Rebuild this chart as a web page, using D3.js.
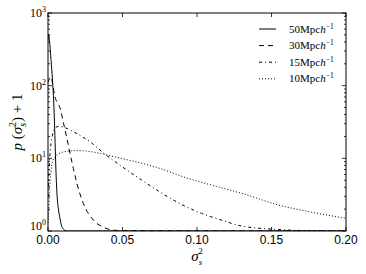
<!DOCTYPE html>
<html>
<head>
<meta charset="utf-8">
<script src="https://cdn.jsdelivr.net/npm/d3@7"></script>
<style>
  body { margin: 0; background: #fff; }
  svg { display: block; }
</style>
</head>
<body>
<div id="chart"></div>
<script>
// sigma_s^2 values and p(sigma_s^2)+1 for each smoothing scale
const x50 = [0, 0.0005, 0.001, 0.002, 0.003, 0.004, 0.0045, 0.005, 0.0055, 0.006, 0.007, 0.008, 0.009, 0.010, 0.0115, 0.013, 0.2];
const y50 = [420, 510, 420, 230, 120, 50, 25, 11, 5.5, 3.3, 2.0, 1.5, 1.2, 1.08, 1.02, 1.0, 1.0];

const x30 = [0, 0.0018, 0.0047, 0.0085, 0.0099, 0.0125, 0.0148, 0.017, 0.0193, 0.0237, 0.0304, 0.0371, 0.0436, 0.05, 0.2];
const y30 = [110, 132, 70, 46, 34, 19.6, 11.6, 7.3, 4.6, 2.4, 1.42, 1.13, 1.03, 1.01, 1.0];

const x15 = [0, 0.001, 0.002, 0.003, 0.0047, 0.007, 0.010, 0.015, 0.020, 0.028, 0.038, 0.050, 0.063, 0.0765, 0.090, 0.103, 0.117, 0.130, 0.154, 0.176, 0.2];
const y15 = [3, 9, 16, 21, 26, 27.5, 27, 24.5, 21.5, 17, 11.5, 7.6, 5.0, 3.3, 2.3, 1.75, 1.4, 1.17, 1.05, 1.01, 1.0];

const x10 = [0, 0.0005, 0.001, 0.002, 0.003, 0.0047, 0.008, 0.013, 0.020, 0.027, 0.035, 0.042, 0.050, 0.072, 0.094, 0.117, 0.130, 0.154, 0.176, 0.2];
const y10 = [1.3, 2.0, 3.5, 6.5, 9.0, 10.5, 11.8, 12.5, 12.8, 12.5, 11.7, 10.8, 9.9, 7.6, 5.3, 3.9, 3.3, 2.3, 1.83, 1.5];

const seriesNames = ['50', '30', '15', '10'];
const xTicks = [0, 0.05, 0.10, 0.15, 0.20];
const yTicks = [1, 10, 100, 1000];

const W = 366, H = 274;
const margin = { top: 13, right: 20, bottom: 43, left: 48 };
const mathFont = '"Liberation Serif", "Times New Roman", serif';

const svg = d3.select('#chart').append('svg')
    .attr('width', W)
    .attr('height', H);

const x = d3.scaleLinear().domain([0, 0.2]).range([margin.left, W - margin.right]);
const y = d3.scaleLog().domain([1, 1000]).range([H - margin.bottom, margin.top]);

const series = [
    { name: seriesNames[0], xs: x50, ys: y50, dash: null },
    { name: seriesNames[1], xs: x30, ys: y30, dash: '5,4' },
    { name: seriesNames[2], xs: x15, ys: y15, dash: '3,3,1,3' },
    { name: seriesNames[3], xs: x10, ys: y10, dash: '1,2' }
];

// clip lines to the axes box
svg.append('clipPath').attr('id', 'plotclip')
    .append('rect')
    .attr('x', margin.left).attr('y', margin.top)
    .attr('width', W - margin.left - margin.right)
    .attr('height', H - margin.top - margin.bottom);

const line = d3.line()
    .x(d => x(d[0]))
    .y(d => y(d[1]))
    .curve(d3.curveMonotoneX);

svg.append('g').attr('clip-path', 'url(#plotclip)')
    .selectAll('path')
    .data(series)
    .join('path')
    .attr('d', s => line(s.xs.map((v, i) => [v, s.ys[i]])))
    .attr('fill', 'none')
    .attr('stroke', '#000')
    .attr('stroke-width', 1)
    .attr('stroke-dasharray', s => s.dash);

// ticks pointing inwards on all four sides
const x0 = margin.left, x1 = W - margin.right;
const yb = H - margin.bottom, yt = margin.top;
const ticks = svg.append('g').attr('stroke', '#000').attr('stroke-width', 0.8);

xTicks.forEach(t => {
    ticks.append('line').attr('x1', x(t)).attr('x2', x(t)).attr('y1', yb).attr('y2', yb - 4);
    ticks.append('line').attr('x1', x(t)).attr('x2', x(t)).attr('y1', yt).attr('y2', yt + 4);
});

const minorY = [];
for (let dec = 1; dec < 1000; dec *= 10) {
    for (let k = 2; k <= 9; k++) minorY.push(dec * k);
}
yTicks.forEach(t => {
    ticks.append('line').attr('x1', x0).attr('x2', x0 + 4).attr('y1', y(t)).attr('y2', y(t));
    ticks.append('line').attr('x1', x1).attr('x2', x1 - 4).attr('y1', y(t)).attr('y2', y(t));
});
minorY.forEach(t => {
    ticks.append('line').attr('x1', x0).attr('x2', x0 + 2).attr('y1', y(t)).attr('y2', y(t));
    ticks.append('line').attr('x1', x1).attr('x2', x1 - 2).attr('y1', y(t)).attr('y2', y(t));
});

// frame
svg.append('rect')
    .attr('x', x0).attr('y', yt)
    .attr('width', x1 - x0).attr('height', yb - yt)
    .attr('fill', 'none').attr('stroke', '#000').attr('stroke-width', 1);

// x tick labels
svg.append('g').selectAll('text')
    .data(xTicks)
    .join('text')
    .attr('x', d => x(d))
    .attr('y', yb + 13)
    .attr('text-anchor', 'middle')
    .style('font-family', '"Liberation Sans", Arial, sans-serif')
    .style('font-size', '12px')
    .text(d => d.toFixed(2));

// y tick labels, 10^n
const yl = svg.append('g')
    .style('font-family', mathFont)
    .style('font-size', '12px');
yTicks.forEach(t => {
    const txt = yl.append('text')
        .attr('x', x0 - 2)
        .attr('y', y(t) + (t === 1 ? -1 : 4))
        .attr('text-anchor', 'end');
    txt.append('tspan').text('10');
    txt.append('tspan').attr('dy', -5).style('font-size', '8px').text(Math.round(Math.log10(t)));
});

// axis labels
const xl = svg.append('text')
    .attr('x', (x0 + x1) / 2)
    .attr('y', H - 13)
    .attr('text-anchor', 'middle')
    .style('font-family', mathFont)
    .style('font-size', '15px');
xl.append('tspan').style('font-style', 'italic').text('σ');
xl.append('tspan').attr('dy', 4).style('font-size', '9px').style('font-style', 'italic').text('s');
xl.append('tspan').attr('dy', -11).attr('dx', -4).style('font-size', '9px').text('2');

const ylab = svg.append('text')
    .attr('transform', `translate(22,${(yt + yb) / 2}) rotate(-90)`)
    .attr('text-anchor', 'middle')
    .style('font-family', mathFont)
    .style('font-size', '15px');
ylab.append('tspan').style('font-style', 'italic').text('p');
ylab.append('tspan').text(' (');
ylab.append('tspan').style('font-style', 'italic').text('σ');
ylab.append('tspan').attr('dy', 4).style('font-size', '10px').style('font-style', 'italic').text('s');
ylab.append('tspan').attr('dy', -10).attr('dx', -4).style('font-size', '10px').text('2');
ylab.append('tspan').attr('dy', 6).text(') + 1');

// legend
const legend = svg.append('g');
series.forEach((s, i) => {
    const ly = 29 + i * 16.6;
    legend.append('line')
        .attr('x1', 259).attr('x2', 276)
        .attr('y1', ly).attr('y2', ly)
        .attr('stroke', '#000').attr('stroke-width', 1)
        .attr('stroke-dasharray', s.dash);
    const t = legend.append('text')
        .attr('x', 289).attr('y', ly + 3.5)
        .style('font-family', mathFont)
        .style('font-size', '11px');
    t.append('tspan').text(s.name + 'Mpc');
    t.append('tspan').style('font-style', 'italic').text('h');
    t.append('tspan').attr('dy', -4).style('font-size', '7.5px').text('−1');
});
</script>
</body>
</html>
